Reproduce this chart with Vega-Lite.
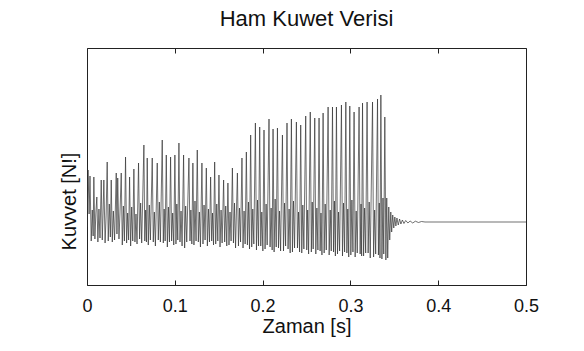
{
  "$schema": "https://vega.github.io/schema/vega-lite/v6.json",
  "autosize": {"type": "none"},
  "width": 439,
  "height": 237,
  "padding": {"left": 87, "top": 48, "right": 58, "bottom": 66},
  "background": "white",
  "title": {"text": "Ham Kuwet Verisi", "fontSize": 22, "font": "Liberation Sans", "fontWeight": "normal", "color": "#111", "anchor": "middle", "offset": 17},
  "config": {
    "view": {"stroke": "#222", "strokeWidth": 1},
    "axis": {"labelFont": "Liberation Sans", "titleFont": "Liberation Sans", "labelColor": "#111", "titleColor": "#111", "domainColor": "#222", "tickColor": "#222", "grid": false, "titleFontWeight": "normal"}
  },
  "data": {"values": [
    {"t":0,"f":-0.5},{"t":0.0012,"f":5.2},{"t":0.0024,"f":0.8},{"t":0.0034,"f":4.6},{"t":0.0048,"f":-1.9},{"t":0.006,"f":1.2},{"t":0.007,"f":-1.4},
    {"t":0.0078,"f":4.5},{"t":0.009,"f":-1.7},{"t":0.0101,"f":0.9},
    {"t":0.0112,"f":2.5},{"t":0.0124,"f":-2.0},{"t":0.0136,"f":1.3},{"t":0.0148,"f":-1.6},
    {"t":0.0162,"f":4.2},{"t":0.0174,"f":-1.8},{"t":0.0183,"f":0.9},{"t":0.0192,"f":4.2},{"t":0.0206,"f":-2.1},{"t":0.0218,"f":0.7},
    {"t":0.023,"f":6.0},{"t":0.0242,"f":-1.9},{"t":0.0254,"f":1.8},{"t":0.0266,"f":-1.5},
    {"t":0.0276,"f":4.2},{"t":0.0288,"f":-2.0},{"t":0.03,"f":1.1},{"t":0.0314,"f":-1.8},
    {"t":0.0333,"f":4.9},{"t":0.0341,"f":-1.2},{"t":0.035,"f":4.4},{"t":0.0364,"f":-1.7},{"t":0.0376,"f":1.0},
    {"t":0.039,"f":4.9},{"t":0.0402,"f":-2.3},{"t":0.0414,"f":1.6},{"t":0.0426,"f":-1.9},
    {"t":0.0439,"f":6.5},{"t":0.0451,"f":-2.1},{"t":0.0463,"f":0.9},{"t":0.0474,"f":-1.8},
    {"t":0.0485,"f":4.5},{"t":0.0497,"f":-2.4},{"t":0.0509,"f":1.5},{"t":0.0521,"f":-1.9},
    {"t":0.0534,"f":5.3},{"t":0.0546,"f":-2.0},{"t":0.0558,"f":0.8},{"t":0.057,"f":-2.2},
    {"t":0.0587,"f":5.9},{"t":0.0599,"f":-1.7},{"t":0.0611,"f":1.9},{"t":0.0623,"f":-2.1},
    {"t":0.0648,"f":7.7},{"t":0.0658,"f":-1.9},{"t":0.0668,"f":1.2},{"t":0.0677,"f":-2.0},
    {"t":0.0686,"f":6.4},{"t":0.0698,"f":-2.3},{"t":0.071,"f":1.7},{"t":0.0722,"f":-1.8},
    {"t":0.0743,"f":6.4},{"t":0.0755,"f":-2.0},{"t":0.0767,"f":1.0},{"t":0.0779,"f":-2.4},
    {"t":0.08,"f":5.9},{"t":0.0812,"f":-1.8},{"t":0.0824,"f":2.0},{"t":0.0836,"f":-2.0},
    {"t":0.0857,"f":8.2},{"t":0.0869,"f":-2.1},{"t":0.0879,"f":1.3},{"t":0.089,"f":-1.9},
    {"t":0.0903,"f":6.7},{"t":0.0915,"f":-2.5},{"t":0.0927,"f":1.5},{"t":0.0939,"f":-2.0},
    {"t":0.0952,"f":6.5},{"t":0.0964,"f":-1.9},{"t":0.0976,"f":0.9},{"t":0.0988,"f":-2.3},
    {"t":0.1001,"f":6.7},{"t":0.1013,"f":-2.2},{"t":0.1023,"f":1.8},{"t":0.1034,"f":-1.8},
    {"t":0.1047,"f":7.9},{"t":0.1059,"f":-2.0},{"t":0.1071,"f":1.1},{"t":0.1083,"f":-2.4},
    {"t":0.11,"f":6.7},{"t":0.1112,"f":-2.6},{"t":0.1124,"f":1.6},{"t":0.1136,"f":-2.0},
    {"t":0.1161,"f":6.4},{"t":0.1173,"f":-1.9},{"t":0.1183,"f":1.2},{"t":0.1194,"f":-2.2},
    {"t":0.1206,"f":5.9},{"t":0.1218,"f":-2.3},{"t":0.123,"f":2.1},{"t":0.1242,"f":-1.9},
    {"t":0.1256,"f":7.2},{"t":0.1268,"f":-2.0},{"t":0.128,"f":1.0},{"t":0.1292,"f":-2.5},
    {"t":0.1309,"f":5.9},{"t":0.1321,"f":-2.2},{"t":0.1333,"f":1.7},{"t":0.1345,"f":-1.8},
    {"t":0.1359,"f":5.4},{"t":0.1371,"f":-2.4},{"t":0.1383,"f":1.3},{"t":0.1395,"f":-2.0},
    {"t":0.1408,"f":4.5},{"t":0.142,"f":-1.9},{"t":0.143,"f":0.9},{"t":0.1441,"f":-2.3},
    {"t":0.1454,"f":6.0},{"t":0.1466,"f":-2.2},{"t":0.1478,"f":1.8},{"t":0.149,"f":-1.9},
    {"t":0.1503,"f":4.7},{"t":0.1515,"f":-2.5},{"t":0.1527,"f":1.2},{"t":0.1539,"f":-2.1},
    {"t":0.1556,"f":4.2},{"t":0.1568,"f":-2.0},{"t":0.158,"f":1.6},{"t":0.1592,"f":-2.4},
    {"t":0.1605,"f":3.9},{"t":0.1617,"f":-2.3},{"t":0.1629,"f":1.0},{"t":0.1641,"f":-1.9},
    {"t":0.1656,"f":5.4},{"t":0.1668,"f":-2.1},{"t":0.168,"f":1.9},{"t":0.1692,"f":-2.6},
    {"t":0.1713,"f":4.9},{"t":0.1725,"f":-2.4},{"t":0.1737,"f":1.4},{"t":0.1749,"f":-2.0},
    {"t":0.1765,"f":6.4},{"t":0.1777,"f":-2.6},{"t":0.1789,"f":1.1},{"t":0.1801,"f":-2.2},
    {"t":0.1815,"f":7.0},{"t":0.1827,"f":-2.3},{"t":0.1839,"f":2.0},{"t":0.1851,"f":-2.7},
    {"t":0.1864,"f":8.7},{"t":0.1876,"f":-2.5},{"t":0.1888,"f":1.3},{"t":0.19,"f":-2.2},
    {"t":0.1918,"f":9.9},{"t":0.193,"f":-2.8},{"t":0.1942,"f":2.2},{"t":0.1954,"f":-2.4},
    {"t":0.1967,"f":9.5},{"t":0.1979,"f":-2.4},{"t":0.1991,"f":1.0},{"t":0.2003,"f":-2.9},
    {"t":0.2016,"f":9.2},{"t":0.2028,"f":-2.7},{"t":0.204,"f":1.8},{"t":0.2052,"f":-2.3},
    {"t":0.2073,"f":10.3},{"t":0.2085,"f":-2.5},{"t":0.2097,"f":1.4},{"t":0.2109,"f":-2.8},
    {"t":0.2119,"f":9.3},{"t":0.2131,"f":-3.0},{"t":0.2143,"f":2.3},{"t":0.2155,"f":-2.5},
    {"t":0.2169,"f":9.4},{"t":0.2181,"f":-2.6},{"t":0.2193,"f":1.1},{"t":0.2205,"f":-2.9},
    {"t":0.2226,"f":8.7},{"t":0.2238,"f":-2.9},{"t":0.225,"f":1.9},{"t":0.2262,"f":-2.4},
    {"t":0.2278,"f":9.9},{"t":0.229,"f":-2.7},{"t":0.2302,"f":1.3},{"t":0.2314,"f":-3.1},
    {"t":0.2328,"f":10.3},{"t":0.234,"f":-3.0},{"t":0.2352,"f":2.1},{"t":0.2364,"f":-2.6},
    {"t":0.2385,"f":10.0},{"t":0.2397,"f":-2.6},{"t":0.2409,"f":1.0},{"t":0.2421,"f":-3.0},
    {"t":0.2434,"f":9.7},{"t":0.2446,"f":-3.1},{"t":0.2458,"f":1.7},{"t":0.247,"f":-2.7},
    {"t":0.2491,"f":10.6},{"t":0.2503,"f":-2.8},{"t":0.2513,"f":1.2},{"t":0.2524,"f":-3.2},
    {"t":0.2543,"f":11.0},{"t":0.2555,"f":-3.0},{"t":0.2565,"f":2.0},{"t":0.2576,"f":-2.7},
    {"t":0.2594,"f":10.4},{"t":0.2606,"f":-3.2},{"t":0.2618,"f":1.4},{"t":0.263,"f":-2.8},
    {"t":0.2643,"f":10.4},{"t":0.2655,"f":-2.9},{"t":0.2665,"f":0.9},{"t":0.2676,"f":-3.3},
    {"t":0.2689,"f":10.9},{"t":0.2701,"f":-3.1},{"t":0.2713,"f":1.8},{"t":0.2725,"f":-2.8},
    {"t":0.2746,"f":11.5},{"t":0.2758,"f":-3.3},{"t":0.277,"f":1.2},{"t":0.2782,"f":-2.9},
    {"t":0.2796,"f":11.5},{"t":0.2808,"f":-3.0},{"t":0.2818,"f":2.1},{"t":0.2829,"f":-3.4},
    {"t":0.2841,"f":11.5},{"t":0.2853,"f":-3.2},{"t":0.2865,"f":1.0},{"t":0.2877,"f":-2.9},
    {"t":0.2898,"f":11.7},{"t":0.291,"f":-3.4},{"t":0.2922,"f":1.9},{"t":0.2934,"f":-3.0},
    {"t":0.2948,"f":12.0},{"t":0.296,"f":-3.1},{"t":0.297,"f":1.3},{"t":0.2981,"f":-3.5},
    {"t":0.2993,"f":11.6},{"t":0.3005,"f":-3.3},{"t":0.3017,"f":2.2},{"t":0.3029,"f":-3.0},
    {"t":0.3042,"f":11.0},{"t":0.3054,"f":-3.5},{"t":0.3066,"f":1.1},{"t":0.3078,"f":-3.1},
    {"t":0.3099,"f":11.5},{"t":0.3111,"f":-3.2},{"t":0.3121,"f":1.8},{"t":0.3128,"f":-3.4},
    {"t":0.3138,"f":11.9},{"t":0.315,"f":-3.4},{"t":0.3162,"f":1.4},{"t":0.3174,"f":-3.1},
    {"t":0.319,"f":12.0},{"t":0.3202,"f":-3.1},{"t":0.3214,"f":2.0},{"t":0.3226,"f":-3.6},
    {"t":0.3252,"f":12.0},{"t":0.3264,"f":-3.5},{"t":0.3276,"f":1.2},{"t":0.3288,"f":-3.2},
    {"t":0.3309,"f":12.3},{"t":0.3319,"f":-3.3},{"t":0.3329,"f":1.9},{"t":0.3337,"f":-3.6},
    {"t":0.3347,"f":12.7},{"t":0.3359,"f":-3.7},{"t":0.3371,"f":2.4},{"t":0.338,"f":-3.2},
    {"t":0.3392,"f":10.5},{"t":0.3404,"f":-3.8},{"t":0.3414,"f":2.4},{"t":0.3425,"f":-3.6},
    {"t":0.3437,"f":1.5},{"t":0.3448,"f":-1.8},{"t":0.346,"f":1.0},{"t":0.347,"f":-1.0},
    {"t":0.3482,"f":0.7},{"t":0.3494,"f":-0.6},{"t":0.3506,"f":0.5},{"t":0.3518,"f":-0.4},
    {"t":0.353,"f":0.4},{"t":0.3545,"f":-0.3},{"t":0.356,"f":0.3},{"t":0.3575,"f":-0.2},
    {"t":0.3592,"f":0.2},{"t":0.361,"f":-0.15},{"t":0.363,"f":0.15},{"t":0.3655,"f":-0.1},
    {"t":0.368,"f":0.1},{"t":0.371,"f":-0.1},{"t":0.374,"f":0.08},{"t":0.3775,"f":-0.05},
    {"t":0.381,"f":0.05},{"t":0.385,"f":0},{"t":0.5,"f":0}
  ]},
  "layer": [
    {
      "mark": {"type": "line", "color": "#333", "strokeWidth": 0.7, "clip": true},
      "encoding": {
        "x": {"field": "t", "type": "quantitative", "scale": {"domain": [0, 0.5], "nice": false, "zero": false},
              "axis": {"orient": "bottom", "values": [0, 0.1, 0.2, 0.3, 0.4, 0.5], "format": "~g", "labelFontSize": 18, "tickSize": -5, "labelPadding": 17, "title": "Zaman [s]", "titleFontSize": 20, "titleBaseline": "alphabetic", "titleY": 47, "titleX": 219.5, "labelFlush": false}},
        "y": {"field": "f", "type": "quantitative", "scale": {"domain": [-6.3, 17.4], "nice": false, "zero": false},
              "axis": {"orient": "left", "ticks": false, "labels": false, "domain": false, "title": "Kuvvet [N!]", "titleFontSize": 20, "titleAngle": -90, "titleBaseline": "bottom", "titleX": -8, "titleY": 153, "titleAlign": "center"}}
      }
    },
    {
      "mark": {"type": "line", "opacity": 0},
      "encoding": {
        "x": {"field": "t", "type": "quantitative", "scale": {"domain": [0, 0.5], "nice": false, "zero": false},
              "axis": {"orient": "top", "values": [0, 0.1, 0.2, 0.3, 0.4, 0.5], "labels": false, "tickSize": -5, "domain": false, "title": null}},
        "y": {"field": "f", "type": "quantitative"}
      }
    }
  ],
  "resolve": {"axis": {"x": "independent"}}
}
